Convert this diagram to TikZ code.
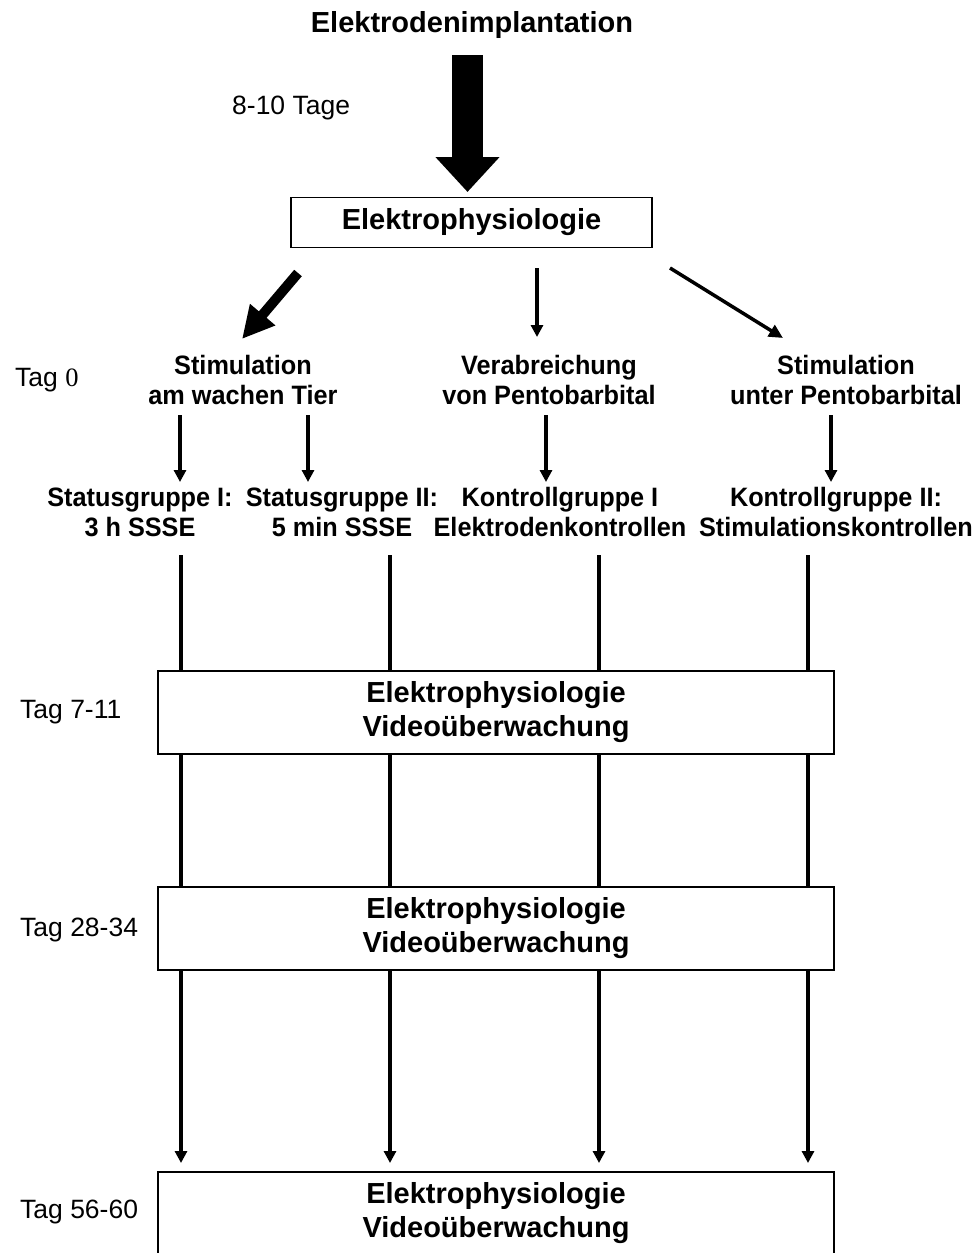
\documentclass[tikz,border=0pt]{standalone}
\usepackage{fontspec}
\setmainfont{Liberation Sans}
\newfontfamily\numfont{Liberation Serif}
\newfontfamily\labelfont{Liberation Sans}[FakeStretch=0.95]
\usetikzlibrary{arrows.meta,positioning}

\tikzset{
  headline/.style={font=\bfseries\fontsize{29}{34}\selectfont},
  grouplabel/.style={font=\labelfont\bfseries\fontsize{26.6}{30}\selectfont, align=center},
  daylabel/.style={font=\fontsize{26.5}{30}\selectfont, anchor=west, inner sep=0pt},
  stagebox/.style={draw, line width=1.5pt, fill=white, align=center,
    minimum width=676pt, minimum height=83pt,
    font=\bfseries\fontsize{29}{34}\selectfont},
  thinarrow/.style={line width=3.2pt, -{Triangle[length=12pt,width=12pt]}},
  fatarrow/.style={line width=10pt, -{Triangle[length=32pt,width=31pt]}},
}

\begin{document}
\begin{tikzpicture}[x=1pt, y=-1pt]
  \useasboundingbox (0,0) rectangle (979,1253);

  % top part
  \node[headline] (implant) at (472,25) {Elektrodenimplantation};
  \node[daylabel] (interval) at (232,108) {8-10 Tage};
  \node[draw, line width=1.5pt, minimum width=361pt, minimum height=50pt,
    headline] (ephys) at (471.5,222.5) {Elektrophysiologie};
  \coordinate (bigS) at (467.5,55);
  \coordinate (bigE) at (467.5,192);
  \draw[line width=31pt, -{Triangle[length=35pt,width=62pt]}] (bigS) -- (bigE);

  % Tag 0
  \node[daylabel] (day0) at (15,380) {Tag {\numfont 0}};
  \node[grouplabel] (awake) at (243,380) {Stimulation\\am wachen Tier};
  \node[grouplabel] (pento) at (549,380) {Verabreichung\\von Pentobarbital};
  \node[grouplabel] (underpento) at (846,380) {Stimulation\\unter Pentobarbital};

  \coordinate (fatS) at (298,273);
  \coordinate (fatE) at (242,339);
  \draw[fatarrow] (fatS) -- (fatE);
  \coordinate (midS) at (537,268);
  \coordinate (midE) at (537,337);
  \draw[thinarrow] (midS) -- (midE);
  \coordinate (diaS) at (670,268);
  \coordinate (diaE) at (783,338);
  \draw[line width=3.5pt, -{Triangle[length=14pt,width=13pt]}] (diaS) -- (diaE);

  % groups
  \node[grouplabel] (status1) at (140,512) {Statusgruppe I:\\3 h SSSE};
  \node[grouplabel] (status2) at (342,512) {Statusgruppe II:\\5 min SSSE};
  \node[grouplabel] (control1) at (560,512) {Kontrollgruppe I\\Elektrodenkontrollen};
  \node[grouplabel] (control2) at (836,512) {Kontrollgruppe II:\\Stimulationskontrollen};

  \draw[thinarrow] (180,415) -- (180,482);
  \draw[thinarrow] (308,415) -- (308,482);
  \draw[thinarrow] (546,415) -- (546,482);
  \draw[thinarrow] (831,415) -- (831,482);

  % time lines
  \foreach \x in {181,390,599,808}
    \draw[thinarrow] (\x,555) -- (\x,1163);

  \node[stagebox] (week1) at (496,712.5) {Elektrophysiologie\\Videoüberwachung};
  \node[stagebox] (week4) at (496,928.5) {Elektrophysiologie\\Videoüberwachung};
  \node[stagebox] (week8) at (496,1213.5) {Elektrophysiologie\\Videoüberwachung};

  \node[daylabel] (day7) at (20,712) {Tag 7-11};
  \node[daylabel] (day28) at (20,930) {Tag 28-34};
  \node[daylabel] (day56) at (20,1212) {Tag 56-60};
\end{tikzpicture}
\end{document}
